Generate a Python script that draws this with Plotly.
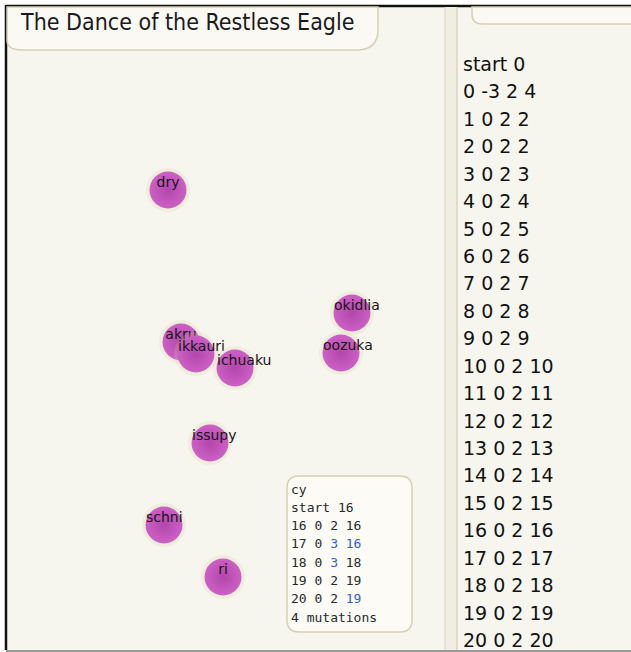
import plotly.graph_objects as go

# ---- data ----
names = ["dry", "akru", "ikkauri", "ichuaku", "okidlia", "oozuka", "issupy", "schni", "ri"]
node_x = [168, 181, 196, 235, 352, 341, 210, 164, 223]
node_y = [190, 342, 354, 368, 313, 353, 443, 525, 577]

title_text = "The Dance of the Restless Eagle"

log_lines = [
    "start 0", "0 -3 2 4", "1 0 2 2", "2 0 2 2", "3 0 2 3", "4 0 2 4",
    "5 0 2 5", "6 0 2 6", "7 0 2 7", "8 0 2 8", "9 0 2 9", "10 0 2 10",
    "11 0 2 11", "12 0 2 12", "13 0 2 13", "14 0 2 14", "15 0 2 15",
    "16 0 2 16", "17 0 2 17", "18 0 2 18", "19 0 2 19", "20 0 2 20",
]

# (text, highlighted?) tokens per line of the mutation box
mut_lines = [
    [("cy", False)],
    [("start", False), ("16", False)],
    [("16", False), ("0", False), ("2", False), ("16", False)],
    [("17", False), ("0", False), ("3", True), ("16", True)],
    [("18", False), ("0", False), ("3", True), ("18", False)],
    [("19", False), ("0", False), ("2", False), ("19", False)],
    [("20", False), ("0", False), ("2", False), ("19", True)],
    [("4", False), ("mutations", False)],
]

# ---- styles ----
W, H = 631, 652
BG = "#f7f6ee"
EDGE = "#d6cfb3"
BLUE = "#2f5fe0"
SANS = "DejaVu Sans"
MONO = "DejaVu Sans Mono"
LABEL_SIZE = 14
RADIUS = 18

# approximate DejaVu Sans advance widths (em) used to place labels like the original
_adv = dict(a=.613, c=.550, d=.635, h=.634, i=.278, k=.579, l=.278, n=.634, o=.612,
            p=.635, r=.411, s=.521, u=.634, y=.592, z=.525)


def label_left(name, cx):
    w = sum(_adv.get(ch, .6) for ch in name) * LABEL_SIZE
    return cx - min(w / 2, RADIUS)


fig = go.Figure()

# nodes: halo, ball, label (per node so later balls cover earlier labels)
for n, x, y in zip(names, node_x, node_y):
    fig.add_trace(go.Scatter(
        x=[x], y=[y], mode="markers", hoverinfo="skip",
        marker=dict(size=44, color="rgba(214,204,160,0.22)", line=dict(width=0)),
    ))
    fig.add_trace(go.Scatter(
        x=[x], y=[y], mode="markers", hoverinfo="skip",
        marker=dict(size=37, color="#cc60c4",
                    gradient=dict(type="radial", color="#b246aa"),
                    line=dict(width=0)),
    ))
    fig.add_trace(go.Scatter(
        x=[label_left(n, x)], y=[y - 7], mode="text", text=[n], hoverinfo="skip",
        textposition="middle right",
        marker=dict(size=0),
        textfont=dict(family=SANS, size=LABEL_SIZE, color="#151515"),
    ))

shapes = []
# outer frame
shapes.append(dict(type="rect", xref="x", yref="y", x0=0, x1=W, y0=0, y1=H,
                   fillcolor="white", line=dict(width=0), layer="below"))
shapes.append(dict(type="rect", xref="x", yref="y", x0=6, x1=W + 2, y0=6, y1=650,
                   fillcolor=BG, line=dict(width=0), layer="below"))
shapes.append(dict(type="line", xref="x", yref="y", x0=6, x1=W, y0=6, y1=6,
                   line=dict(color="#111", width=2.5), layer="below"))
shapes.append(dict(type="line", xref="x", yref="y", x0=6, x1=6, y0=5, y1=650,
                   line=dict(color="#111", width=2.5), layer="below"))
shapes.append(dict(type="line", xref="x", yref="y", x0=6, x1=W, y0=651, y1=651,
                   line=dict(color="#9a9a9a", width=2), layer="below"))
# divider between panels
shapes.append(dict(type="rect", xref="x", yref="y", x0=445, x1=457, y0=7, y1=650,
                   fillcolor="#f0eee3", line=dict(width=0), layer="below"))
shapes.append(dict(type="line", xref="x", yref="y", x0=445, x1=445, y0=7, y1=650,
                   line=dict(color="#e2dcc6", width=1.5), layer="below"))
shapes.append(dict(type="line", xref="x", yref="y", x0=457, x1=457, y0=7, y1=650,
                   line=dict(color="#dcd5bd", width=1.5), layer="below"))
# title box
shapes.append(dict(type="path", xref="x", yref="y", layer="below",
                   path="M 7 7 L 378 7 L 378 30 Q 378 50 356 50 L 22 50 Q 7 50 7 40 Z",
                   fillcolor="#faf9f3", line=dict(color=EDGE, width=1.5)))
# top-right box
shapes.append(dict(type="path", xref="x", yref="y", layer="below",
                   path="M 472 7 L 472 14 Q 472 24 482 24 L 632 24 L 632 7 Z",
                   fillcolor="#faf9f3", line=dict(color=EDGE, width=1.5)))
# mutation box (above nodes)
shapes.append(dict(type="path", xref="x", yref="y", layer="above",
                   path="M 299 476 L 400 476 Q 412 476 412 488 L 412 620 Q 412 632 400 632 "
                        "L 299 632 Q 287 632 287 620 L 287 488 Q 287 476 299 476 Z",
                   fillcolor="#fcfbf6", line=dict(color=EDGE, width=1.5)))

annotations = []
annotations.append(dict(x=18, y=22, xref="x", yref="y", text=title_text, showarrow=False,
                        xanchor="left", yanchor="middle",
                        font=dict(family="DejaVu Sans Condensed, " + SANS, size=23, color="#1a1a1a")))

log_top, log_step = 64, 27.43
for i, line in enumerate(log_lines):
    annotations.append(dict(x=461, y=log_top + i * log_step, xref="x", yref="y", text=line,
                            showarrow=False, xanchor="left", yanchor="middle",
                            font=dict(family=SANS, size=19, color="#111")))

mut_top, mut_step = 489, 18.3
for i, toks in enumerate(mut_lines):
    parts = []
    for t, hi in toks:
        parts.append(f"<span style='color:{BLUE}'>{t}</span>" if hi else t)
    annotations.append(dict(x=289, y=mut_top + i * mut_step, xref="x", yref="y",
                            text=" ".join(parts), showarrow=False,
                            xanchor="left", yanchor="middle",
                            font=dict(family=MONO, size=13, color="#2a2a2a")))

fig.update_layout(
    width=W, height=H, margin=dict(l=0, r=0, t=0, b=0),
    paper_bgcolor="white", plot_bgcolor="white", showlegend=False,
    xaxis=dict(range=[0, W], visible=False, fixedrange=True),
    yaxis=dict(range=[H, 0], visible=False, fixedrange=True),
    shapes=shapes, annotations=annotations,
)

fig.write_html("out.html", config={"displayModeBar": False},
               post_script="document.body.style.margin='0px';document.body.style.overflow='hidden';")
